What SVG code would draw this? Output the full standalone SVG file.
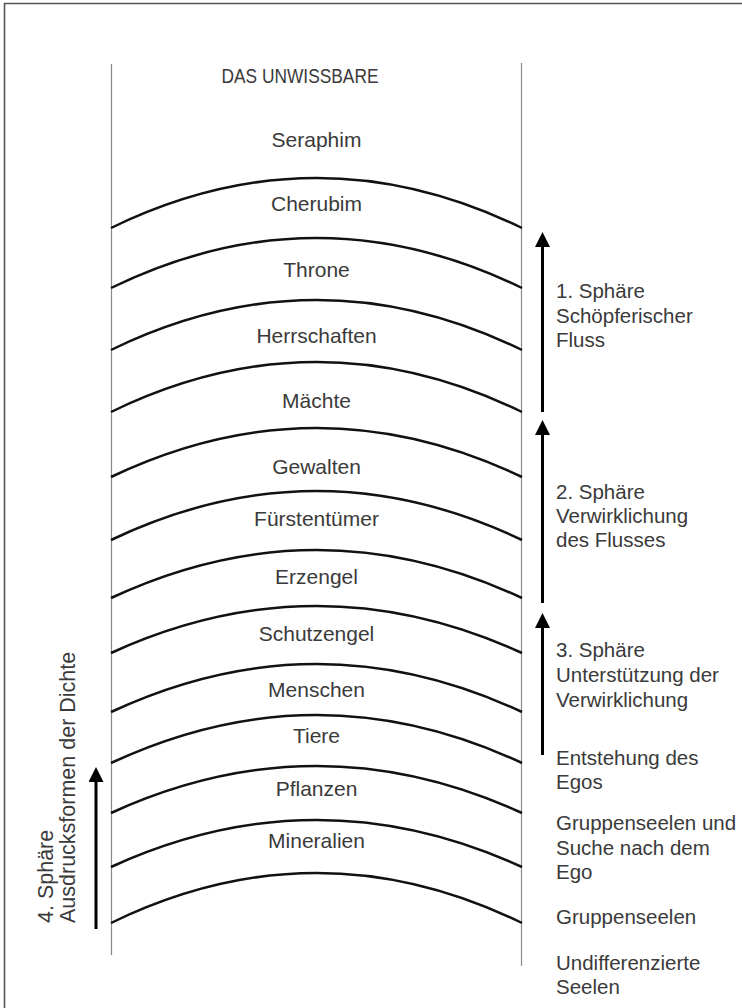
<svg xmlns="http://www.w3.org/2000/svg" width="742" height="1008" viewBox="0 0 742 1008">
<style>
.lbl{font-family:"Liberation Sans",Arial,sans-serif;font-size:21px;fill:#3a3a3a;text-anchor:middle}
.side{font-family:"Liberation Sans",Arial,sans-serif;font-size:20.5px;fill:#3a3a3a}
.arc{fill:none;stroke:#111;stroke-width:2.5}
.rail{stroke:#8a8a8a;stroke-width:1.2}
.arr{stroke:#000;stroke-width:3;fill:none;marker-end:url(#head)}
</style>
<defs>
<marker id="head" viewBox="0 0 15 15" refX="5" refY="7.5" markerWidth="15" markerHeight="15" markerUnits="userSpaceOnUse" orient="auto">
<path d="M0,0 L15,7.5 L0,15 z" fill="#000"/>
</marker>
</defs>
<rect width="742" height="1008" fill="#fff"/>
<g id="frame">
<path d="M4.5,1008 V3.5 H742" fill="none" stroke="#555" stroke-width="1.6"/>
</g>
<g id="rails">
<line class="rail" x1="111.5" y1="64" x2="111.5" y2="955"/>
<line class="rail" x1="521.5" y1="63" x2="521.5" y2="966"/>
</g>
<g id="arcs">
<path class="arc" d="M111,228 Q316.5,128 522,228"/>
<path class="arc" d="M111,288 Q316.5,188 522,288"/>
<path class="arc" d="M111,350 Q316.5,250 522,350"/>
<path class="arc" d="M111,412 Q316.5,312 522,412"/>
<path class="arc" d="M111,477 Q316.5,379 522,477"/>
<path class="arc" d="M111,540 Q316.5,442 522,540"/>
<path class="arc" d="M111,598 Q316.5,502 522,598"/>
<path class="arc" d="M111,653 Q316.5,559 522,653"/>
<path class="arc" d="M111,712 Q316.5,616 522,712"/>
<path class="arc" d="M111,763 Q316.5,667 522,763"/>
<path class="arc" d="M111,813 Q316.5,719 522,813"/>
<path class="arc" d="M111,867 Q316.5,773 522,867"/>
<path class="arc" d="M111,923 Q316.5,823 522,923"/>
</g>
<g id="title"><text class="lbl" x="300" y="83" style="font-size:20px" textLength="157" lengthAdjust="spacingAndGlyphs">DAS UNWISSBARE</text></g>
<g id="seraphim"><text class="lbl" x="316.5" y="147">Seraphim</text></g>
<g id="cherubim"><text class="lbl" x="316.5" y="211">Cherubim</text></g>
<g id="throne"><text class="lbl" x="316.5" y="277">Throne</text></g>
<g id="herrschaften"><text class="lbl" x="316.5" y="343">Herrschaften</text></g>
<g id="maechte"><text class="lbl" x="316.5" y="408">Mächte</text></g>
<g id="gewalten"><text class="lbl" x="316.5" y="474">Gewalten</text></g>
<g id="fuerstentuemer"><text class="lbl" x="316.5" y="526">Fürstentümer</text></g>
<g id="erzengel"><text class="lbl" x="316.5" y="584">Erzengel</text></g>
<g id="schutzengel"><text class="lbl" x="316.5" y="641">Schutzengel</text></g>
<g id="menschen"><text class="lbl" x="316.5" y="697">Menschen</text></g>
<g id="tiere"><text class="lbl" x="316.5" y="743">Tiere</text></g>
<g id="pflanzen"><text class="lbl" x="316.5" y="796">Pflanzen</text></g>
<g id="mineralien"><text class="lbl" x="316.5" y="848">Mineralien</text></g>
<g id="connectors">
<line class="arr" x1="542.5" y1="412" x2="542.5" y2="242"/>
<line class="arr" x1="542.5" y1="603" x2="542.5" y2="430"/>
<line class="arr" x1="542.5" y1="755" x2="542.5" y2="623"/>
<line class="arr" x1="96" y1="929" x2="96" y2="777"/>
</g>
<g id="sphere1"><text class="side" x="556" y="298">1. Sphäre</text><text class="side" x="556" y="322.5">Schöpferischer</text><text class="side" x="556" y="347">Fluss</text></g>
<g id="sphere2"><text class="side" x="556" y="499">2. Sphäre</text><text class="side" x="556" y="523">Verwirklichung</text><text class="side" x="556" y="547">des Flusses</text></g>
<g id="sphere3"><text class="side" x="556" y="657">3. Sphäre</text><text class="side" x="556" y="682">Unterstützung der</text><text class="side" x="556" y="706.5">Verwirklichung</text></g>
<g id="ego"><text class="side" x="556" y="765">Entstehung des</text><text class="side" x="556" y="788.5">Egos</text></g>
<g id="gruppe-suche"><text class="side" x="556" y="830">Gruppenseelen und</text><text class="side" x="556" y="854.5">Suche nach dem</text><text class="side" x="556" y="878.5">Ego</text></g>
<g id="gruppe"><text class="side" x="556" y="924">Gruppenseelen</text></g>
<g id="undiff"><text class="side" x="556" y="970">Undifferenzierte</text><text class="side" x="556" y="993.5">Seelen</text></g>
<g id="sphere4" transform="translate(53,923) rotate(-90)"><text class="side" x="0" y="0" style="font-size:21.5px">4. Sphäre</text><text class="side" x="0" y="22" style="font-size:21.5px">Ausdrucksformen der Dichte</text></g>
</svg>
